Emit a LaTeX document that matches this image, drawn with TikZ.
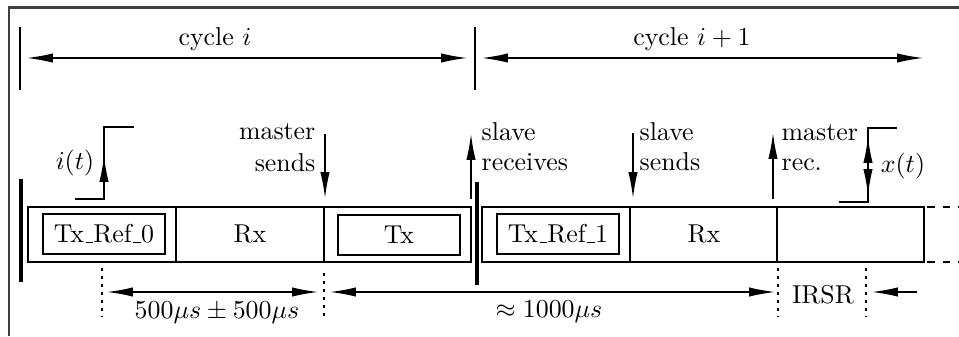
\documentclass[tikz,border=0pt]{standalone}
\usetikzlibrary{arrows.meta}
\newcommand\ulbar{\leavevmode\kern.06em\vbox{\hrule width.3em}}
\begin{document}
\tikzset{
  tipA/.style={-{Latex[length=10pt,width=3.6pt]}},
  tipB/.style={{Latex[length=10pt,width=3.6pt]}-{Latex[length=10pt,width=3.6pt]}},
  bar/.style={line width=1.3pt},
  dotline/.style={line width=0.5pt, dash pattern=on 1.1pt off 2pt},
  lbl/.style={inner sep=0pt},
}
\begin{tikzpicture}[x=0.0136cm,y=-0.0136cm,line width=0.5pt]
\useasboundingbox (0,0) rectangle (959,336);
% partial frame
\draw[black!75,line width=0.8pt] (9,336) -- (9,7.5) -- (959,7.5);

% cycle markers
\coordinate (c0t) at (20,27);  \coordinate (c0b) at (20,90);
\coordinate (c1t) at (475,27); \coordinate (c1b) at (475,90);
\draw (c0t) -- (c0b);
\draw (c1t) -- (c1b);
\coordinate (a0l) at (27,58);  \coordinate (a0r) at (467,58);
\coordinate (a1l) at (482,58); \coordinate (a1r) at (923,58);
\draw[tipB] (a0l) -- (a0r);
\draw[tipB] (a1l) -- (a1r);
\node[lbl,anchor=base] (cyc0) at (215,45) {cycle $i$};
\node[lbl,anchor=base] (cyc1) at (692,45) {cycle $i+1$};

% frame rows
\draw (28,207) rectangle (471,262);
\draw (176,207) -- (176,262);
\draw (324,207) -- (324,262);
\draw (43,214) rectangle (165,254);
\draw (338,215) rectangle (460,255);
\node (txr0) at (104,234) {Tx\ulbar Ref\ulbar 0};
\node (rx0) at (250,234) {Rx};
\node (tx0) at (399,235) {Tx};

\draw (482,207) rectangle (924,262);
\draw (630,207) -- (630,262);
\draw[line width=1pt] (777,207) -- (777,262);
\draw (497,214) rectangle (619,254);
\node (txr1) at (558,234) {Tx\ulbar Ref\ulbar 1};
\node (rx1) at (704,234) {Rx};
\draw[dash pattern=on 3pt off 3pt] (927,207) -- (959,207);
\draw[dash pattern=on 3pt off 3pt] (927,262) -- (959,262);

% thick cycle bars
\draw[bar] (21,179) -- (21,282);
\draw[bar] (477,182) -- (477,285);

% i(t)
\coordinate (i1) at (75,199); \coordinate (i2) at (104,199);
\coordinate (i3) at (104,127); \coordinate (i4) at (134,127);
\draw (i1) -- (i2) -- (i3) -- (i4);
\coordinate (ia) at (104,185); \coordinate (ib) at (104,156);
\draw[tipA] (ia) -- (ib);
\node (it) at (75,163) {$i(t)$};

% x(t)
\coordinate (x1) at (839,202); \coordinate (x2) at (868,202);
\coordinate (x3) at (868,128); \coordinate (x4) at (897,128);
\draw (x1) -- (x2) -- (x3) -- (x4);
\coordinate (xm) at (868,164); \coordinate (xu) at (868,137); \coordinate (xd) at (868,195);
\draw[tipA] (xm) -- (xu);
\draw[tipA] (xm) -- (xd);
\node (xt) at (903,166) {$x(t)$};

% event arrows
\coordinate (ms1) at (325,134); \coordinate (ms2) at (325,198);
\draw[tipA] (ms1) -- (ms2);
\node[lbl,anchor=base east] (msA) at (316,139) {master};
\node[lbl,anchor=base east] (msB) at (316,171) {sends};

\coordinate (sr1) at (471,199); \coordinate (sr2) at (471,134);
\draw[tipA] (sr1) -- (sr2);
\node[lbl,anchor=base west] (srA) at (481,140) {slave};
\node[lbl,anchor=base west] (srB) at (481,170) {receives};

\coordinate (ss1) at (633,133); \coordinate (ss2) at (633,198);
\draw[tipA] (ss1) -- (ss2);
\node[lbl,anchor=base west] (ssA) at (639,140) {slave};
\node[lbl,anchor=base west] (ssB) at (639,170) {sends};

\coordinate (mr1) at (773,199); \coordinate (mr2) at (773,133);
\draw[tipA] (mr1) -- (mr2);
\node[lbl,anchor=base west] (mrA) at (781,140) {master};
\node[lbl,anchor=base west] (mrB) at (781,170) {rec.};

% bottom dimensions
\draw[dotline] (102,268) -- (102,317);
\draw[dotline] (324,273) -- (324,320);
\draw[dotline] (778,268) -- (778,317);
\draw[dotline] (866,268) -- (866,317);
\coordinate (d1a) at (107,292); \coordinate (d1b) at (318,292);
\draw[tipB] (d1a) -- (d1b);
\coordinate (d2a) at (330,292); \coordinate (d2b) at (775,292);
\draw[tipB] (d2a) -- (d2b);
\coordinate (d3a) at (917,292); \coordinate (d3b) at (872,292);
\draw[tipA] (d3a) -- (d3b);
\node[lbl,anchor=base] (t500) at (217,318) {$500\mu s \pm 500\mu s$};
\node[lbl,anchor=base] (t1000) at (549,317) {$\approx 1000\mu s$};
\node[lbl,anchor=base] (irsr) at (823,303) {IRSR};
\end{tikzpicture}
\end{document}
